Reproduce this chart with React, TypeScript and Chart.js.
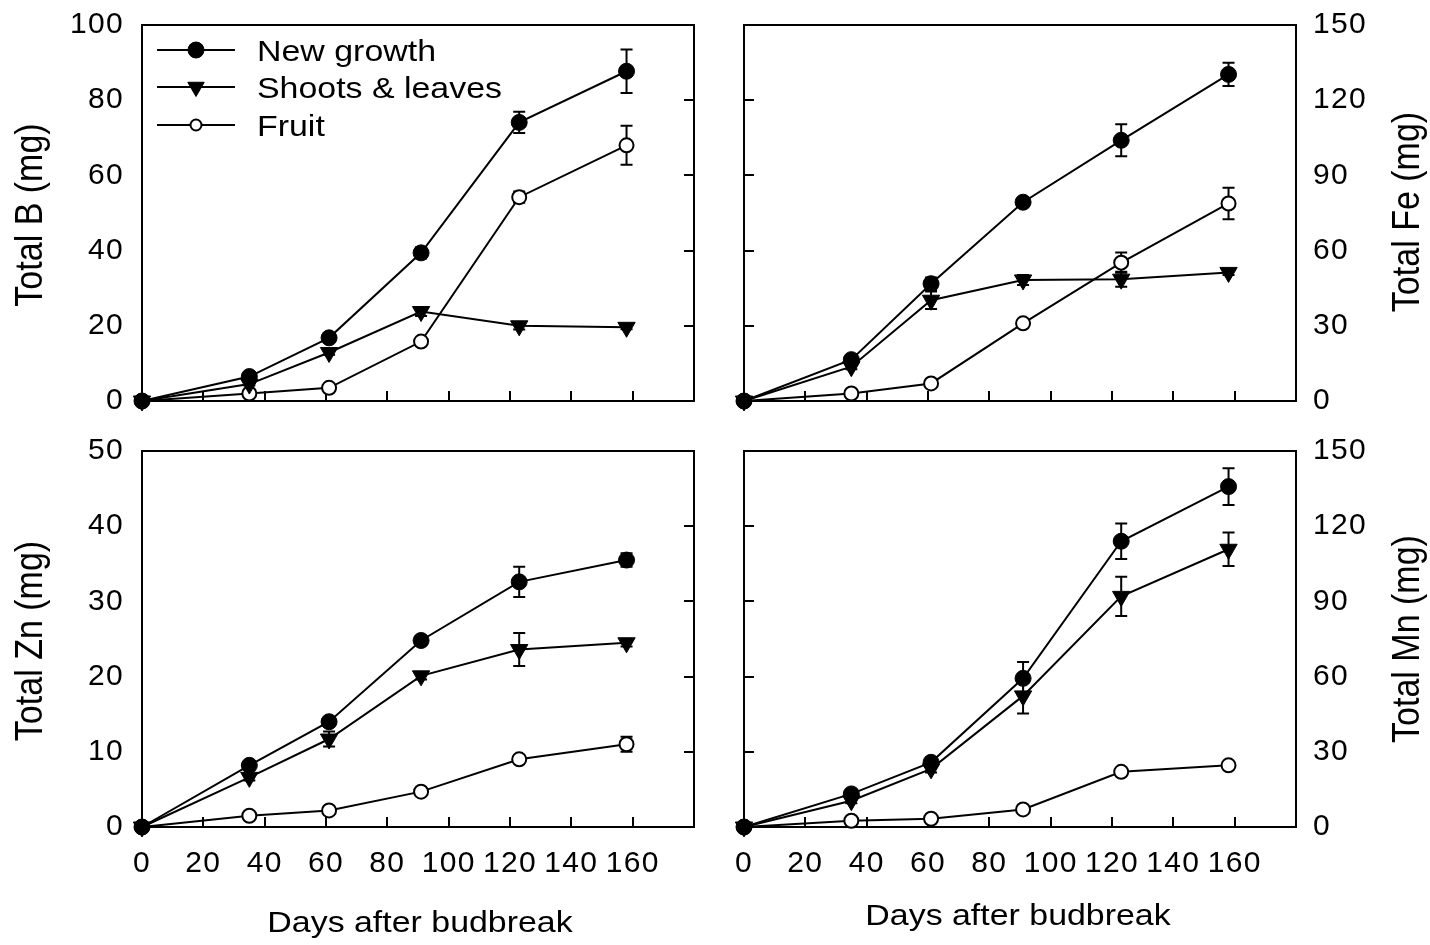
import React, { useEffect, useRef } from 'react';
import { Chart, registerables } from 'chart.js';

Chart.register(...registerables);

// ---------------- data ----------------
const DAYS = [0, 35, 61, 91, 123, 158];
const SERIES_NAMES = ['New growth', 'Shoots & leaves', 'Fruit'];
const X_TITLE = 'Days after budbreak';
const X_MIN = 0;
const X_MAX = 180;
const X_STEP = 20;
const X_LAST_LABEL = 160;

const B_NEW = [0, 6.5, 16.8, 39.4, 74.1, 87.7];
const B_SHOOTS = [0, 4.5, 12.9, 23.8, 20.0, 19.6];
const B_FRUIT = [0, 2.0, 3.5, 15.8, 54.2, 68.0];
const B_NEW_ERR = [0, 0.6, 0.8, 1.5, 2.8, 5.8];
const B_SHOOTS_ERR = [0, 0.4, 0.6, 1.2, 1.0, 0.5];
const B_FRUIT_ERR = [0, 0.3, 0.4, 0.6, 1.5, 5.2];

const FE_NEW = [0, 16.5, 46.8, 79.3, 104.0, 130.3];
const FE_SHOOTS = [0, 13.7, 40.2, 48.3, 48.6, 51.3];
const FE_FRUIT = [0, 3.0, 7.0, 31.0, 55.2, 78.8];
const FE_NEW_ERR = [0, 1.5, 2.5, 1.0, 6.4, 4.6];
const FE_SHOOTS_ERR = [0, 1.0, 3.5, 2.0, 3.0, 1.0];
const FE_FRUIT_ERR = [0, 0.5, 0.8, 0.8, 4.0, 6.3];

const ZN_NEW = [0, 8.2, 14.0, 24.8, 32.6, 35.5];
const ZN_SHOOTS = [0, 6.6, 11.7, 20.1, 23.6, 24.5];
const ZN_FRUIT = [0, 1.5, 2.2, 4.7, 9.0, 11.0];
const ZN_NEW_ERR = [0, 0.4, 0.6, 0.4, 2.0, 0.9];
const ZN_SHOOTS_ERR = [0, 0.4, 1.0, 0.5, 2.2, 0.5];
const ZN_FRUIT_ERR = [0, 0.2, 0.2, 0.3, 0.5, 1.0];

const MN_NEW = [0, 13.2, 25.8, 59.3, 114.0, 135.8];
const MN_SHOOTS = [0, 10.5, 23.2, 52.3, 92.0, 110.8];
const MN_FRUIT = [0, 2.5, 3.3, 7.0, 22.0, 24.6];
const MN_NEW_ERR = [0, 1.5, 2.0, 6.5, 7.1, 7.3];
const MN_SHOOTS_ERR = [0, 1.0, 1.5, 7.0, 7.8, 6.7];
const MN_FRUIT_ERR = [0, 0.3, 0.3, 0.8, 1.5, 0.8];

// ---------------- style / layout ----------------
const FONT = '"Liberation Sans", Arial, sans-serif';
const SX = 1.13; // horizontal stretch of the reference lettering

type PanelDef = {
  key: string;
  yTitle: string;
  yMax: number;
  yStep: number;
  side: 'left' | 'right';
  bottom: boolean;
  legend: boolean;
  series: number[][];
  errors: number[][];
  left: number; top: number; width: number; height: number;
  plotLeft: number; plotRight: number; plotTop: number; plotBottom: number;
  xTitleX: number; xTitleY: number;
  yTitleX: number; yTitleY: number;
};

const PANELS: PanelDef[] = [
  {
    key: 'B', yTitle: 'Total B (mg)', yMax: 100, yStep: 20, side: 'left', bottom: false, legend: true,
    series: [B_NEW, B_SHOOTS, B_FRUIT], errors: [B_NEW_ERR, B_SHOOTS_ERR, B_FRUIT_ERR],
    left: 0, top: 0, width: 715, height: 426,
    plotLeft: 142, plotRight: 694, plotTop: 25, plotBottom: 401,
    xTitleX: 420, xTitleY: 932, yTitleX: 42, yTitleY: 215,
  },
  {
    key: 'Fe', yTitle: 'Total Fe (mg)', yMax: 150, yStep: 30, side: 'right', bottom: false, legend: false,
    series: [FE_NEW, FE_SHOOTS, FE_FRUIT], errors: [FE_NEW_ERR, FE_SHOOTS_ERR, FE_FRUIT_ERR],
    left: 715, top: 0, width: 715, height: 426,
    plotLeft: 744, plotRight: 1296, plotTop: 25, plotBottom: 401,
    xTitleX: 1018, xTitleY: 925, yTitleX: 1419, yTitleY: 212,
  },
  {
    key: 'Zn', yTitle: 'Total Zn (mg)', yMax: 50, yStep: 10, side: 'left', bottom: true, legend: false,
    series: [ZN_NEW, ZN_SHOOTS, ZN_FRUIT], errors: [ZN_NEW_ERR, ZN_SHOOTS_ERR, ZN_FRUIT_ERR],
    left: 0, top: 426, width: 715, height: 519,
    plotLeft: 142, plotRight: 694, plotTop: 451, plotBottom: 827,
    xTitleX: 420, xTitleY: 932, yTitleX: 42, yTitleY: 641,
  },
  {
    key: 'Mn', yTitle: 'Total Mn (mg)', yMax: 150, yStep: 30, side: 'right', bottom: true, legend: false,
    series: [MN_NEW, MN_SHOOTS, MN_FRUIT], errors: [MN_NEW_ERR, MN_SHOOTS_ERR, MN_FRUIT_ERR],
    left: 715, top: 426, width: 715, height: 519,
    plotLeft: 744, plotRight: 1296, plotTop: 451, plotBottom: 827,
    xTitleX: 1018, xTitleY: 925, yTitleX: 1419, yTitleY: 639,
  },
];

const MARKERS = [
  { style: 'circle', radius: 8, fill: '#000', border: 1, rotation: 0, legendRadius: 8 },
  { style: 'triangle', radius: 10, fill: '#000', border: 1, rotation: 180, legendRadius: 9.5 },
  { style: 'circle', radius: 7, fill: '#fff', border: 2, rotation: 0, legendRadius: 5.5 },
];

function drawH(ctx: CanvasRenderingContext2D, text: string, x: number, y: number, align: CanvasTextAlign) {
  ctx.save();
  ctx.translate(x, y);
  ctx.scale(SX, 1);
  ctx.textAlign = align;
  ctx.textBaseline = 'alphabetic';
  ctx.fillText(text, 0, 0);
  ctx.restore();
}

function drawV(ctx: CanvasRenderingContext2D, text: string, x: number, y: number) {
  ctx.save();
  ctx.translate(x, y);
  ctx.scale(SX, 1);
  ctx.rotate(-Math.PI / 2);
  ctx.textAlign = 'center';
  ctx.textBaseline = 'alphabetic';
  ctx.fillText(text, 0, 0);
  ctx.restore();
}

function drawMarker(ctx: CanvasRenderingContext2D, m: any, x: number, y: number) {
  ctx.save();
  ctx.beginPath();
  if (m.style === 'triangle') {
    const r = m.legendRadius;
    for (let k = 0; k < 3; k++) {
      const a = Math.PI + (k * 2 * Math.PI) / 3;
      const px = x + Math.sin(a) * r;
      const py = y - Math.cos(a) * r;
      if (k === 0) ctx.moveTo(px, py); else ctx.lineTo(px, py);
    }
    ctx.closePath();
  } else {
    ctx.arc(x, y, m.legendRadius, 0, Math.PI * 2);
  }
  ctx.fillStyle = m.fill;
  ctx.fill();
  ctx.lineWidth = m.border;
  ctx.strokeStyle = '#000';
  ctx.stroke();
  ctx.restore();
}

function zeroPadding(s: any) {
  s.paddingLeft = 0;
  s.paddingRight = 0;
  s.paddingTop = 0;
  s.paddingBottom = 0;
}

function makeConfig(p: PanelDef): any {
  const cw = p.width;
  const ch = p.height;
  const pl = p.plotLeft - p.left;
  const pr = p.plotRight - p.left;
  const pt = p.plotTop - p.top;
  const pb = p.plotBottom - p.top;
  const otherSide = p.side === 'left' ? 'right' : 'left';
  const labelAxisWidth = p.side === 'left' ? pl : cw - pr;
  const border = { display: true, color: '#000', width: 2 };
  const tickFont = { family: FONT, size: 30 };

  const spacingPlugin = {
    id: 'spacing',
    beforeUpdate(chart: any) { try { chart.ctx.letterSpacing = '1.3px'; } catch (e) { /* */ } },
    beforeDraw(chart: any) { try { chart.ctx.letterSpacing = '1.3px'; } catch (e) { /* */ } },
  };

  const errorBarPlugin = {
    id: 'errorBars',
    beforeDatasetsDraw(chart: any) {
      const ctx = chart.ctx as CanvasRenderingContext2D;
      const xs = chart.scales.x;
      const ys = chart.scales.y;
      ctx.save();
      ctx.strokeStyle = '#000';
      ctx.lineWidth = 2;
      p.series.forEach((vals, si) => {
        const errs = p.errors[si];
        vals.forEach((v, j) => {
          const e = errs[j];
          if (!e) return;
          const px = xs.getPixelForValue(DAYS[j]);
          const y1 = ys.getPixelForValue(v + e);
          const y2 = ys.getPixelForValue(v - e);
          const cap = 6;
          ctx.beginPath();
          ctx.moveTo(px, y1); ctx.lineTo(px, y2);
          ctx.moveTo(px - cap, y1); ctx.lineTo(px + cap, y1);
          ctx.moveTo(px - cap, y2); ctx.lineTo(px + cap, y2);
          ctx.stroke();
        });
      });
      ctx.restore();
    },
  };

  const textPlugin = {
    id: 'panelText',
    afterDraw(chart: any) {
      const ctx = chart.ctx as CanvasRenderingContext2D;
      ctx.save();
      try { (ctx as any).letterSpacing = '0px'; } catch (e) { /* */ }
      ctx.fillStyle = '#000';
      if (p.bottom) {
        ctx.font = `30px ${FONT}`;
        drawH(ctx, X_TITLE, p.xTitleX - p.left, p.xTitleY - p.top, 'center');
      }
      ctx.font = `34px ${FONT}`;
      drawV(ctx, p.yTitle, p.yTitleX - p.left, p.yTitleY - p.top);
      if (p.legend) {
        const rows = [50, 87, 125];
        SERIES_NAMES.forEach((name, i) => {
          const y = rows[i] - p.top;
          ctx.save();
          ctx.strokeStyle = '#000';
          ctx.lineWidth = 2;
          ctx.beginPath();
          ctx.moveTo(157 - p.left, y);
          ctx.lineTo(235 - p.left, y);
          ctx.stroke();
          ctx.restore();
          drawMarker(ctx, MARKERS[i], 196 - p.left, y);
          ctx.fillStyle = '#000';
          ctx.font = `30px ${FONT}`;
          drawH(ctx, name, 257 - p.left, y + 11, 'left');
        });
      }
      ctx.restore();
    },
  };

  return {
    type: 'line',
    data: {
      datasets: SERIES_NAMES.map((name, i) => ({
        label: name,
        data: DAYS.map((d, j) => ({ x: d, y: p.series[i][j] })),
        borderColor: '#000',
        borderWidth: 2,
        pointStyle: MARKERS[i].style,
        pointRotation: MARKERS[i].rotation,
        pointRadius: MARKERS[i].radius,
        pointHoverRadius: MARKERS[i].radius,
        pointBackgroundColor: MARKERS[i].fill,
        pointBorderColor: '#000',
        pointBorderWidth: MARKERS[i].border,
        fill: false,
        tension: 0,
        clip: false,
      })),
    },
    options: {
      animation: false,
      responsive: false,
      maintainAspectRatio: false,
      devicePixelRatio: 1,
      events: [],
      layout: {
        padding: {
          left: p.side === 'left' ? 0 : pl,
          right: p.side === 'left' ? cw - pr : 0,
          top: pt,
          bottom: 0,
        },
      },
      plugins: { legend: { display: false }, tooltip: { enabled: false }, title: { display: false } },
      scales: {
        x: {
          type: 'linear',
          position: 'bottom',
          min: X_MIN,
          max: X_MAX,
          ticks: {
            display: p.bottom,
            stepSize: X_STEP,
            autoSkip: false,
            maxRotation: 0,
            minRotation: 0,
            padding: 29,
            color: '#000',
            font: tickFont,
            callback: (v: number) => (v <= X_LAST_LABEL ? String(v) : ''),
          },
          grid: { drawOnChartArea: false, drawTicks: true, tickLength: -10, color: '#000', lineWidth: 2 },
          border,
          afterFit: (s: any) => { s.height = ch - pb; zeroPadding(s); },
        },
        x2: {
          type: 'linear',
          position: 'top',
          min: X_MIN,
          max: X_MAX,
          ticks: { display: false },
          grid: { display: false, drawTicks: false },
          border,
          afterFit: (s: any) => { s.height = 0; zeroPadding(s); },
        },
        y: {
          type: 'linear',
          position: p.side,
          min: 0,
          max: p.yMax,
          ticks: { stepSize: p.yStep, padding: p.side === 'left' ? 18 : 17, color: '#000', font: tickFont },
          grid: { display: false, drawTicks: false },
          border,
          afterFit: (s: any) => { s.width = labelAxisWidth; zeroPadding(s); },
        },
        y2: {
          type: 'linear',
          position: otherSide,
          min: 0,
          max: p.yMax,
          ticks: { display: false, stepSize: p.yStep },
          grid: { drawOnChartArea: false, drawTicks: true, tickLength: -10, color: '#000', lineWidth: 2 },
          border,
          afterFit: (s: any) => { s.width = 0; zeroPadding(s); },
        },
      },
    },
    plugins: [spacingPlugin, errorBarPlugin, textPlugin],
  };
}

function PanelChart({ p }: { p: PanelDef }) {
  const ref = useRef<HTMLCanvasElement | null>(null);
  useEffect(() => {
    if (!ref.current) return;
    const chart = new Chart(ref.current, makeConfig(p));
    return () => chart.destroy();
  }, [p]);
  return (
    <canvas
      ref={ref}
      width={p.width}
      height={p.height}
      style={{ position: 'absolute', left: p.left, top: p.top, width: p.width, height: p.height }}
    />
  );
}

export default function App() {
  return (
    <div style={{ position: 'absolute', left: 0, top: 0, width: 1430, height: 945, background: '#fff', overflow: 'hidden' }}>
      {PANELS.map((p) => (
        <PanelChart key={p.key} p={p} />
      ))}
    </div>
  );
}
